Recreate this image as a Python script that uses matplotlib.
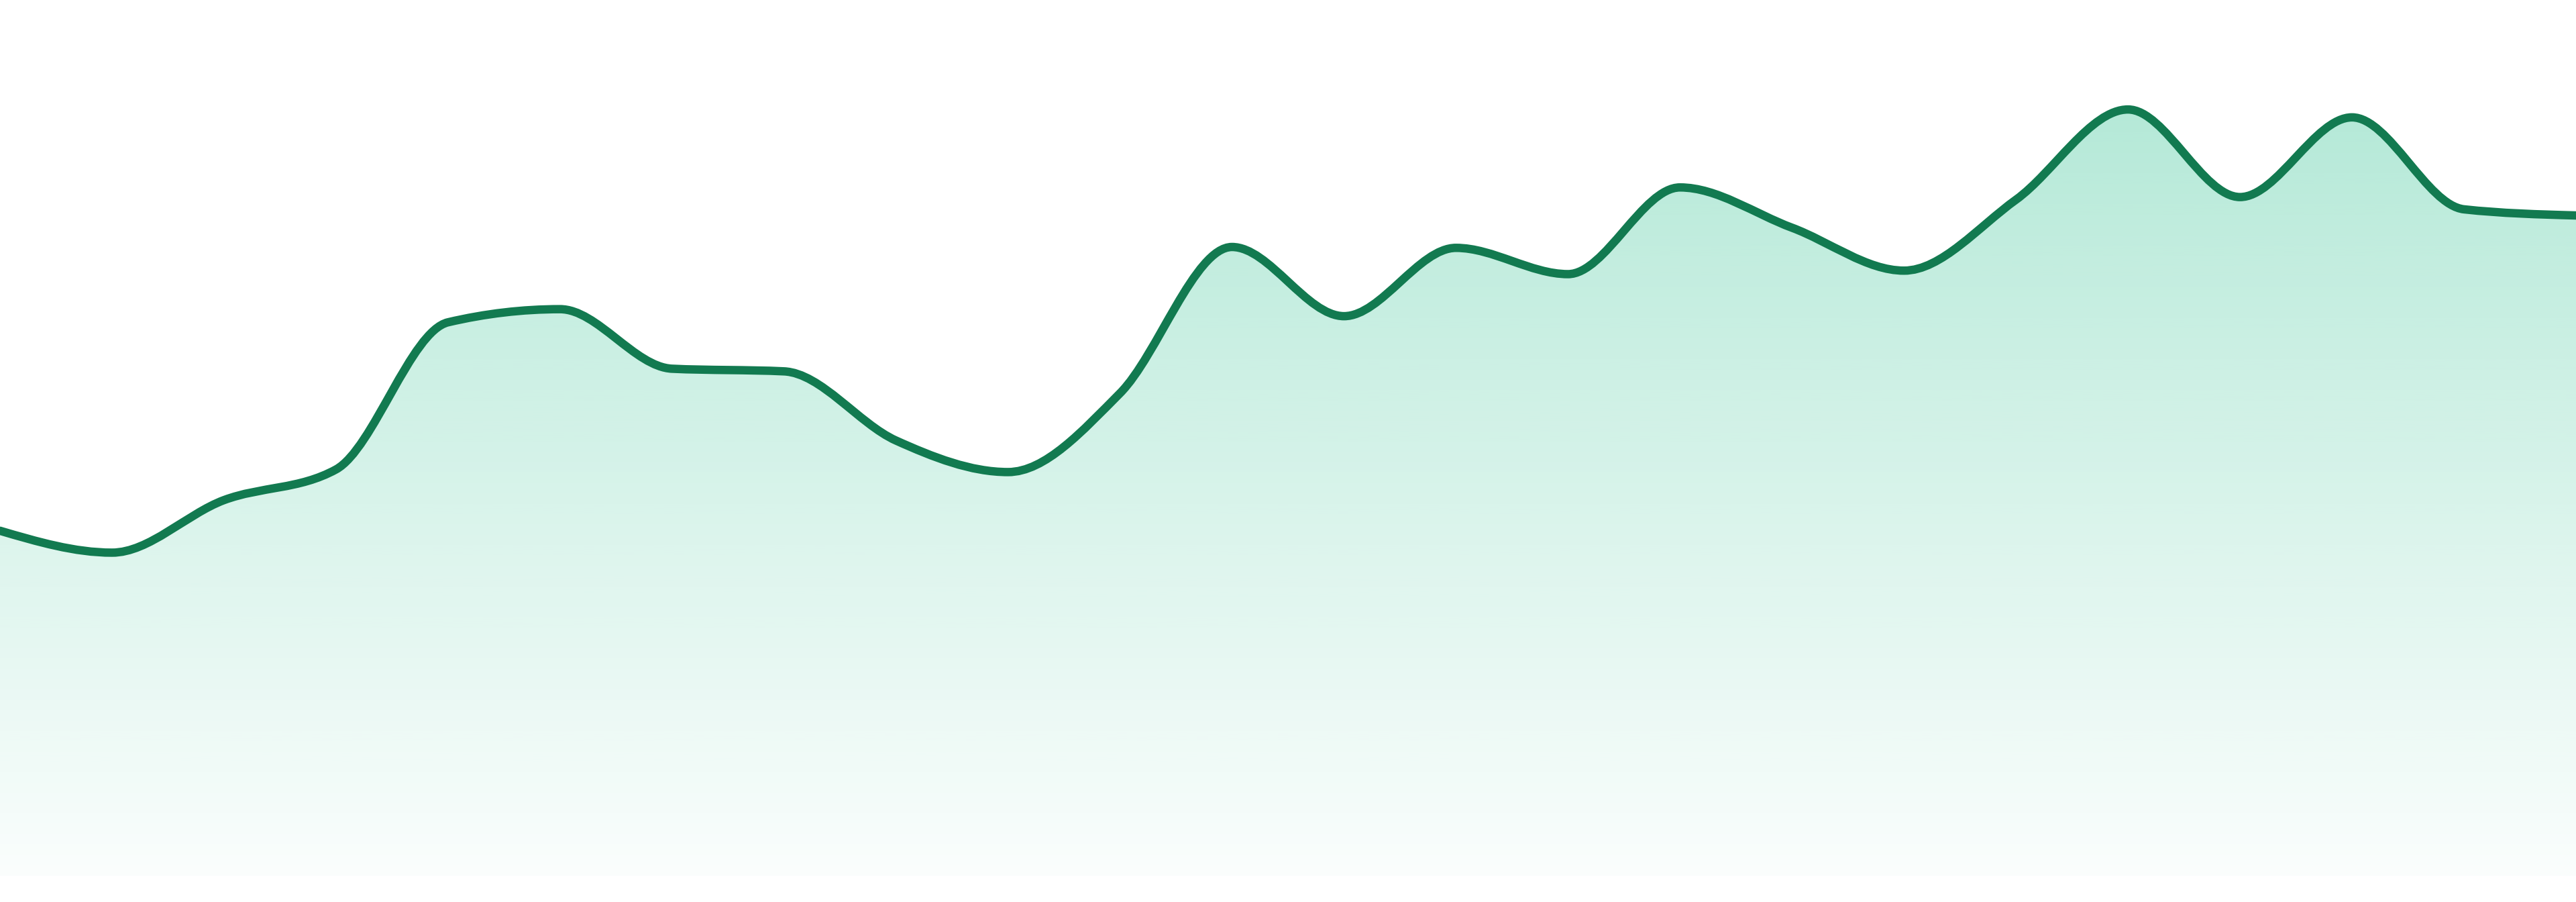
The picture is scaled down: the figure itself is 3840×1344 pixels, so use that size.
import numpy as np
import matplotlib
matplotlib.use("Agg")
import matplotlib.pyplot as plt
from matplotlib.path import Path
from matplotlib.patches import PathPatch

# values (0-100 scale, one point per step)
values = [39.4, 36.9, 42.9, 46.4, 63.2, 64.7, 57.9, 57.6, 49.7, 46.1, 55.1, 71.8,
          63.9, 71.7, 68.7, 78.6, 74.0, 69.1, 77.2, 87.5, 77.5, 86.6, 76.1, 75.4]
steps = list(range(len(values)))

LINE = "#127a50"
FILL = (16 / 255, 185 / 255, 129 / 255)


# monotone cubic curve (same rule as d3 curveMonotoneX), built as bezier path
def monotone_path(x, y):
    x = np.asarray(x, float)
    y = np.asarray(y, float)
    n = len(x)
    h = np.diff(x)
    s = np.diff(y) / h
    t = np.zeros(n)
    for i in range(1, n - 1):
        p = (s[i - 1] * h[i] + s[i] * h[i - 1]) / (h[i - 1] + h[i])
        t[i] = (np.sign(s[i - 1]) + np.sign(s[i])) * min(abs(s[i - 1]), abs(s[i]), 0.5 * abs(p))
    t[0] = (3 * s[0] - t[1]) / 2
    t[-1] = (3 * s[-1] - t[-2]) / 2
    verts = [(x[0], y[0])]
    codes = [Path.MOVETO]
    for i in range(n - 1):
        dx = (x[i + 1] - x[i]) / 3
        verts += [(x[i] + dx, y[i] + dx * t[i]),
                  (x[i + 1] - dx, y[i + 1] - dx * t[i + 1]),
                  (x[i + 1], y[i + 1])]
        codes += [Path.CURVE4] * 3
    return verts, codes


fig = plt.figure(figsize=(38.4, 13.44), dpi=100)
ax = fig.add_axes([0, 39 / 1344, 1, 1305 / 1344])
ax.set_xlim(0, len(values) - 1)
ax.set_ylim(0, 100)
ax.axis("off")

verts, codes = monotone_path(steps, values)

# area under the curve, filled with a vertical gradient
area_verts = verts + [(steps[-1], 0), (steps[0], 0), verts[0]]
area_codes = codes + [Path.LINETO, Path.LINETO, Path.CLOSEPOLY]
area = PathPatch(Path(area_verts, area_codes), facecolor="none", edgecolor="none")
ax.add_patch(area)

top = max(values)
grad = np.zeros((256, 1, 4))
grad[:, 0, 0], grad[:, 0, 1], grad[:, 0, 2] = FILL
grad[:, 0, 3] = np.linspace(0.31, 0.02, 256)
img = ax.imshow(grad, extent=[0, len(values) - 1, 0, top], origin="upper",
                aspect="auto", interpolation="bicubic", zorder=1)
img.set_clip_path(area)

line = PathPatch(Path(verts, codes), facecolor="none", edgecolor=LINE,
                 linewidth=9, capstyle="round", joinstyle="round", zorder=2)
ax.add_patch(line)

fig.savefig("out.png", dpi=100, facecolor="white")
